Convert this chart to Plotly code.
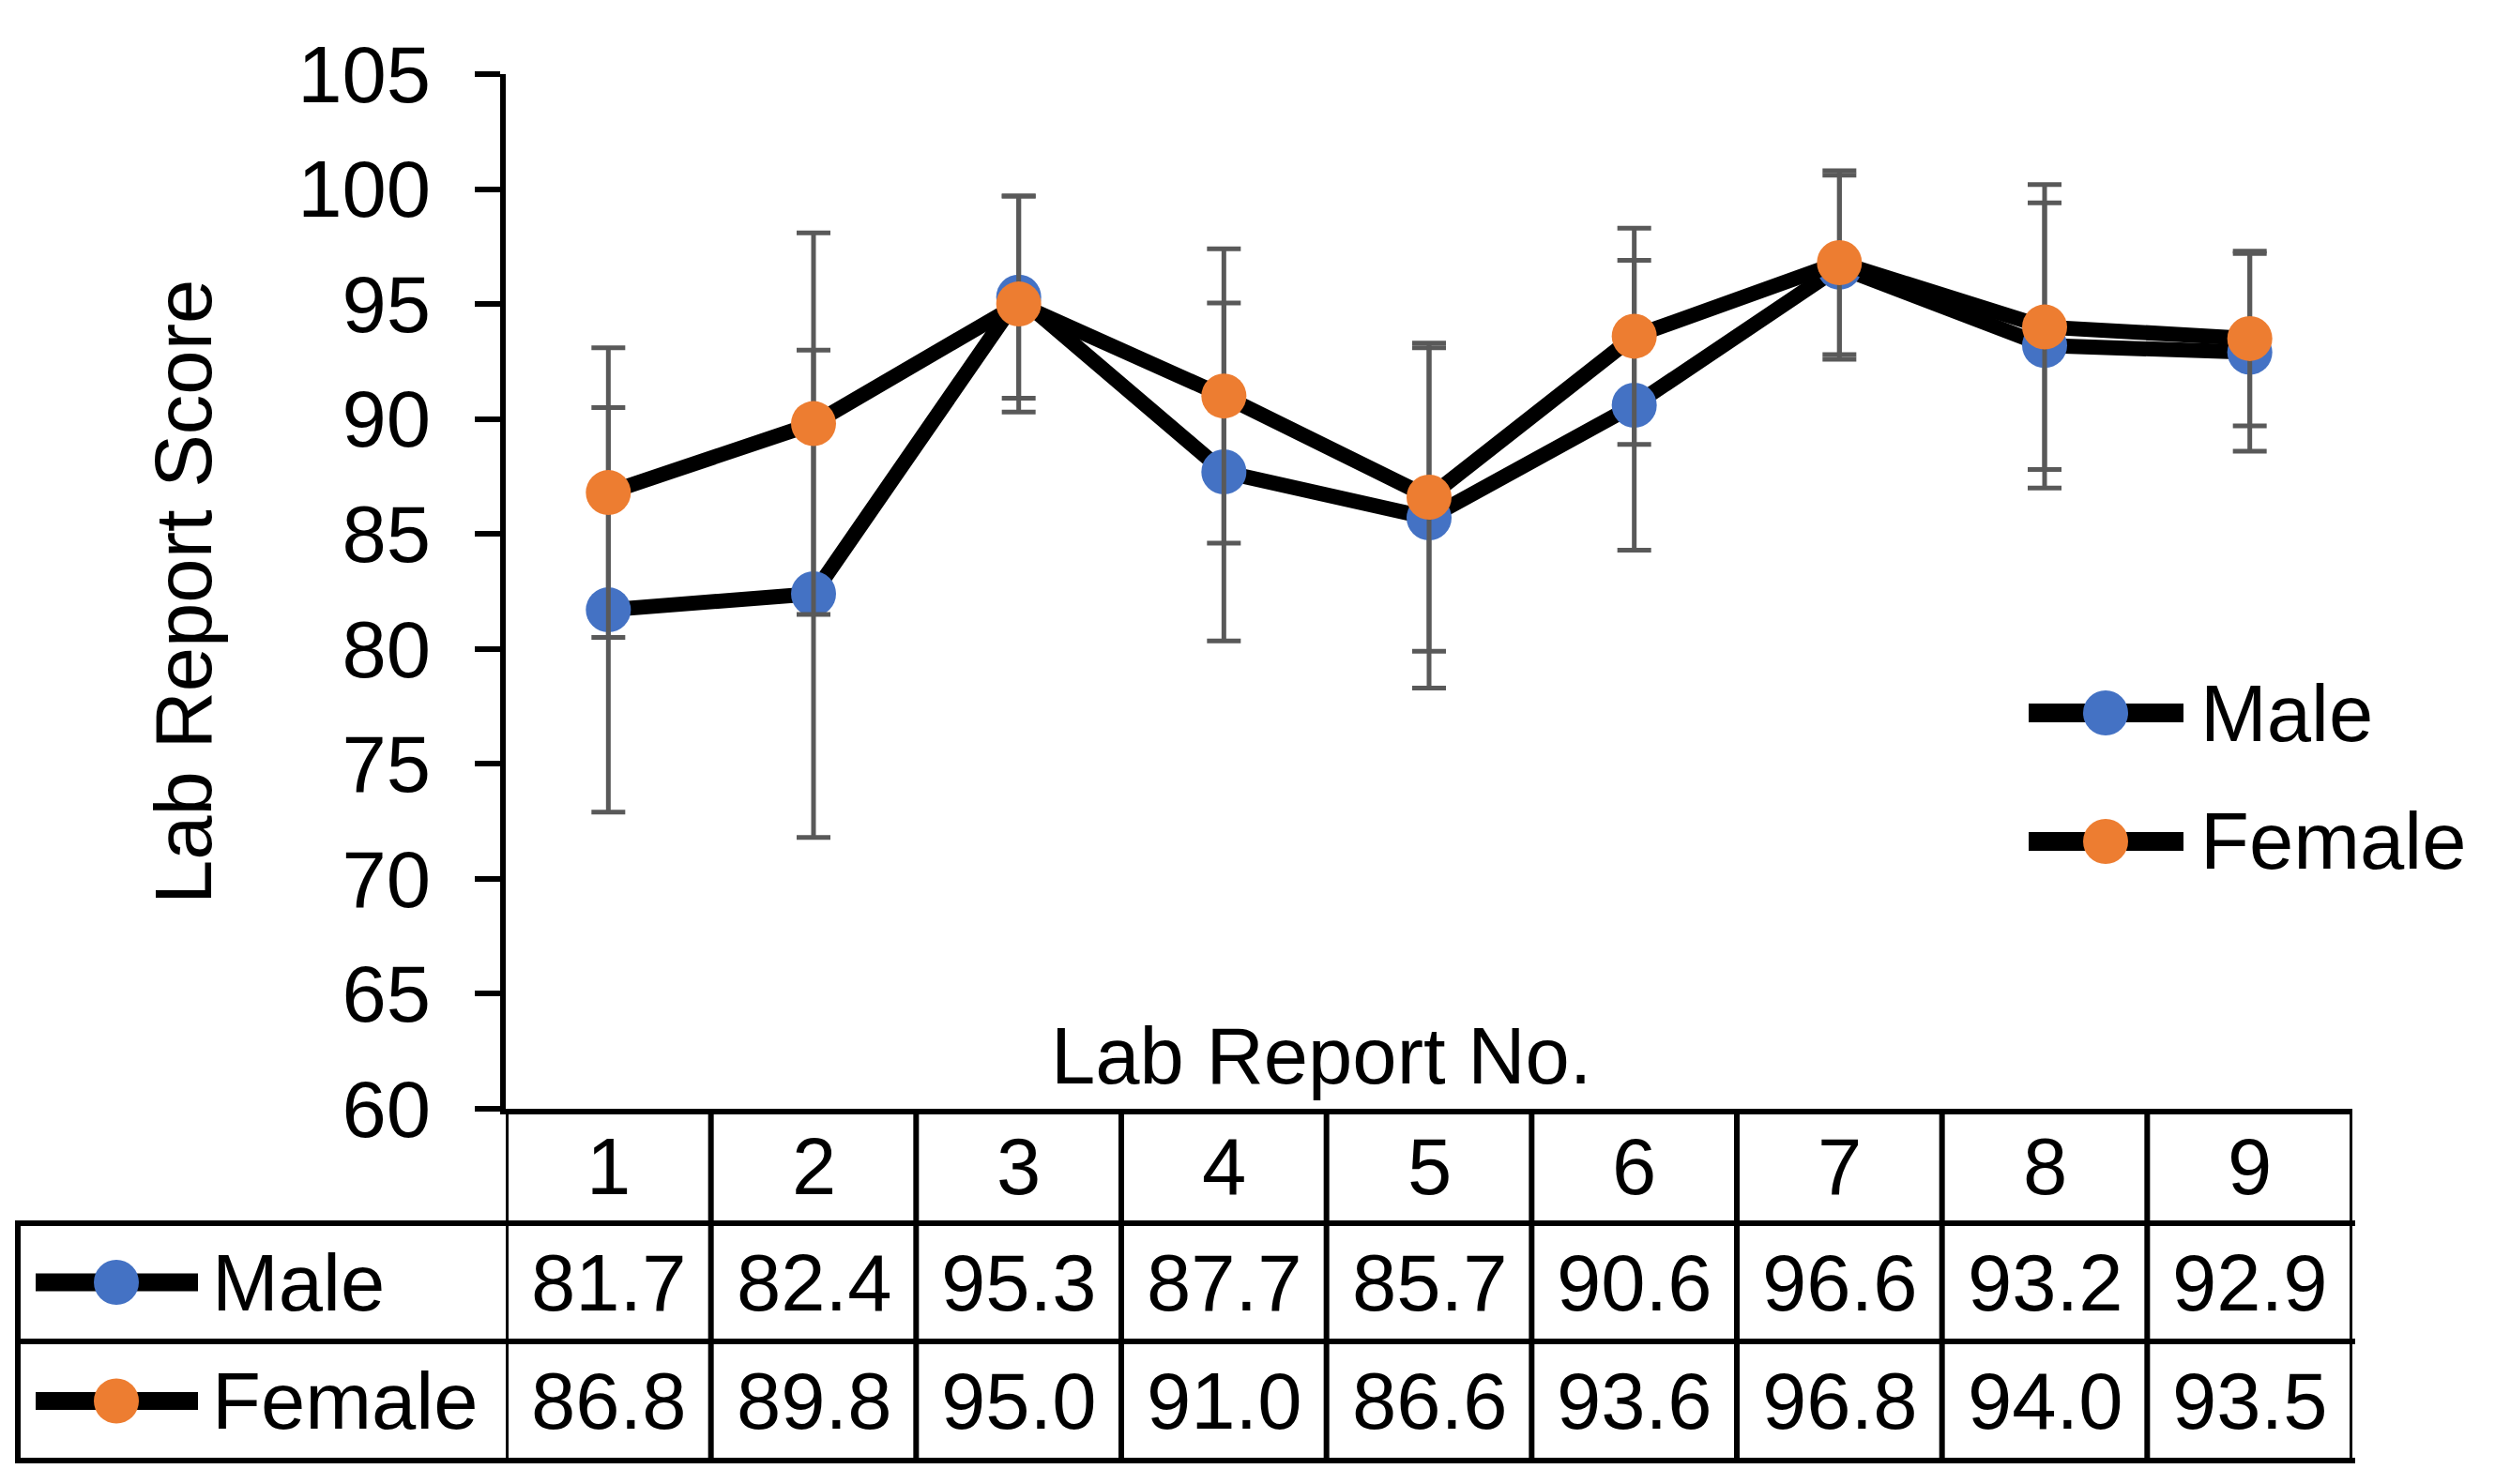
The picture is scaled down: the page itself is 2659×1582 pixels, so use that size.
import plotly.graph_objects as go

# ---- data ----
reports = [1, 2, 3, 4, 5, 6, 7, 8, 9]
male = [81.7, 82.4, 95.3, 87.7, 85.7, 90.6, 96.6, 93.2, 92.9]
female = [86.8, 89.8, 95.0, 91.0, 86.6, 93.6, 96.8, 94.0, 93.5]
male_err = [8.8, 10.6, 4.4, 7.35, 7.4, 6.3, 4.0, 6.2, 4.3]
female_err = [6.3, 8.3, 4.7, 6.4, 6.7, 4.7, 4.0, 6.2, 3.8]
series_names = ["Male", "Female"]
y_ticks = [60, 65, 70, 75, 80, 85, 90, 95, 100, 105]

# ---- layout geometry (pixels) ----
W, H = 2659, 1582
X0, X1 = 539, 2507
Y0, Y1 = 79, 1182
FONT = "Liberation Sans, Arial, sans-serif"
FS = 85
BLUE = "#4472C4"
ORANGE = "#ED7D31"
ERR = "#595959"


def px_x(p):
    return (p - X0) / (X1 - X0)


def px_y(p):
    return (Y1 - p) / (Y1 - Y0)


fig = go.Figure()

for name, vals, errs, col in [("Male", male, male_err, BLUE),
                              ("Female", female, female_err, ORANGE)]:
    fig.add_trace(go.Scatter(
        x=reports, y=vals, name=name, mode="lines+markers",
        line=dict(color="black", width=16),
        marker=dict(color=col, size=48, line=dict(width=0)),
        error_y=dict(type="data", array=errs, visible=True,
                     color=ERR, thickness=5, width=18),
        showlegend=False, cliponaxis=False,
    ))

shapes = []
annotations = []

# table geometry
row_hdr_bot = 1304
row_m_bot = 1430
row_f_bot = 1557
tbl_left = 19
LW = 6

# vertical column lines (through the x scale)
for i in range(len(reports) + 1):
    xv = reports[0] - 0.5 + i
    shapes.append(dict(type="line", xref="x", yref="paper", x0=xv, x1=xv,
                       y0=px_y(Y1), y1=px_y(row_f_bot + 3),
                       line=dict(color="black", width=LW)))
# left border of key column
shapes.append(dict(type="line", xref="paper", yref="paper",
                   x0=px_x(tbl_left), x1=px_x(tbl_left),
                   y0=px_y(row_hdr_bot - 3), y1=px_y(row_f_bot + 3),
                   line=dict(color="black", width=LW)))
# horizontal lines
for yy in [row_hdr_bot, row_m_bot, row_f_bot]:
    shapes.append(dict(type="line", xref="paper", yref="paper",
                       x0=px_x(tbl_left - 3), x1=px_x(X1 + 3),
                       y0=px_y(yy), y1=px_y(yy),
                       line=dict(color="black", width=LW)))

# header numbers
for r in reports:
    annotations.append(dict(x=r, y=px_y((Y1 + row_hdr_bot) / 2), xref="x", yref="paper",
                            text=str(r), showarrow=False,
                            font=dict(family=FONT, size=FS, color="black"),
                            xanchor="center", yanchor="middle"))

# table values
for vals, yc in [(male, (row_hdr_bot + row_m_bot) / 2), (female, (row_m_bot + row_f_bot) / 2)]:
    for r, v in zip(reports, vals):
        annotations.append(dict(x=r, y=px_y(yc), xref="x", yref="paper",
                                text=f"{v:.1f}", showarrow=False,
                                font=dict(family=FONT, size=FS, color="black"),
                                xanchor="center", yanchor="middle"))


def legend_key(xl, xr, xm, yc, col, lw):
    shapes.append(dict(type="line", xref="paper", yref="paper",
                       x0=px_x(xl), x1=px_x(xr), y0=px_y(yc), y1=px_y(yc),
                       line=dict(color="black", width=lw)))
    r = 24
    shapes.append(dict(type="circle", xref="paper", yref="paper",
                       x0=px_x(xm - r), x1=px_x(xm + r),
                       y0=px_y(yc + r), y1=px_y(yc - r),
                       fillcolor=col, line=dict(width=0)))


# keys in the table
for name, col, yc in [("Male", BLUE, (row_hdr_bot + row_m_bot) / 2),
                      ("Female", ORANGE, (row_m_bot + row_f_bot) / 2)]:
    legend_key(38, 211, 124, yc, col, 19)
    annotations.append(dict(x=px_x(224), y=px_y(yc), xref="paper", yref="paper",
                            text=name, showarrow=False,
                            font=dict(family=FONT, size=FS, color="black"),
                            xanchor="left", yanchor="middle"))

# right-hand legend
for name, col, yc in [("Male", BLUE, 760), ("Female", ORANGE, 897)]:
    legend_key(2162, 2327, 2244, yc, col, 20)
    annotations.append(dict(x=px_x(2343), y=px_y(yc), xref="paper", yref="paper",
                            text=name, showarrow=False,
                            font=dict(family=FONT, size=FS, color="black"),
                            xanchor="left", yanchor="middle"))

# axis titles
annotations.append(dict(x=px_x(1408), y=px_y(1125), xref="paper", yref="paper",
                        text="Lab Report No.", showarrow=False,
                        font=dict(family=FONT, size=FS, color="black"),
                        xanchor="center", yanchor="middle"))
annotations.append(dict(x=px_x(195), y=px_y(631), xref="paper", yref="paper",
                        text="Lab Report Score", showarrow=False, textangle=-90,
                        font=dict(family=FONT, size=FS, color="black"),
                        xanchor="center", yanchor="middle"))

fig.update_layout(
    width=W, height=H,
    margin=dict(l=X0, r=W - X1, t=Y0, b=H - Y1, pad=0),
    paper_bgcolor="white", plot_bgcolor="white",
    font=dict(family=FONT, size=FS, color="black"),
    xaxis=dict(range=[reports[0] - 0.5, reports[-1] + 0.5], showgrid=False,
               zeroline=False, showticklabels=False, ticks="",
               showline=True, linecolor="black", linewidth=LW),
    yaxis=dict(range=[y_ticks[0], y_ticks[-1]], tickvals=y_ticks,
               showgrid=False, zeroline=False,
               showline=True, linecolor="black", linewidth=LW,
               ticks="outside", ticklen=27, tickwidth=LW, tickcolor="black",
               ticklabelstandoff=30,
               tickfont=dict(family=FONT, size=FS, color="black")),
    shapes=shapes, annotations=annotations,
)

fig.write_html("out.html", config={"displayModeBar": False},
               post_script="document.body.style.margin='0px';document.body.style.overflow='hidden';")
